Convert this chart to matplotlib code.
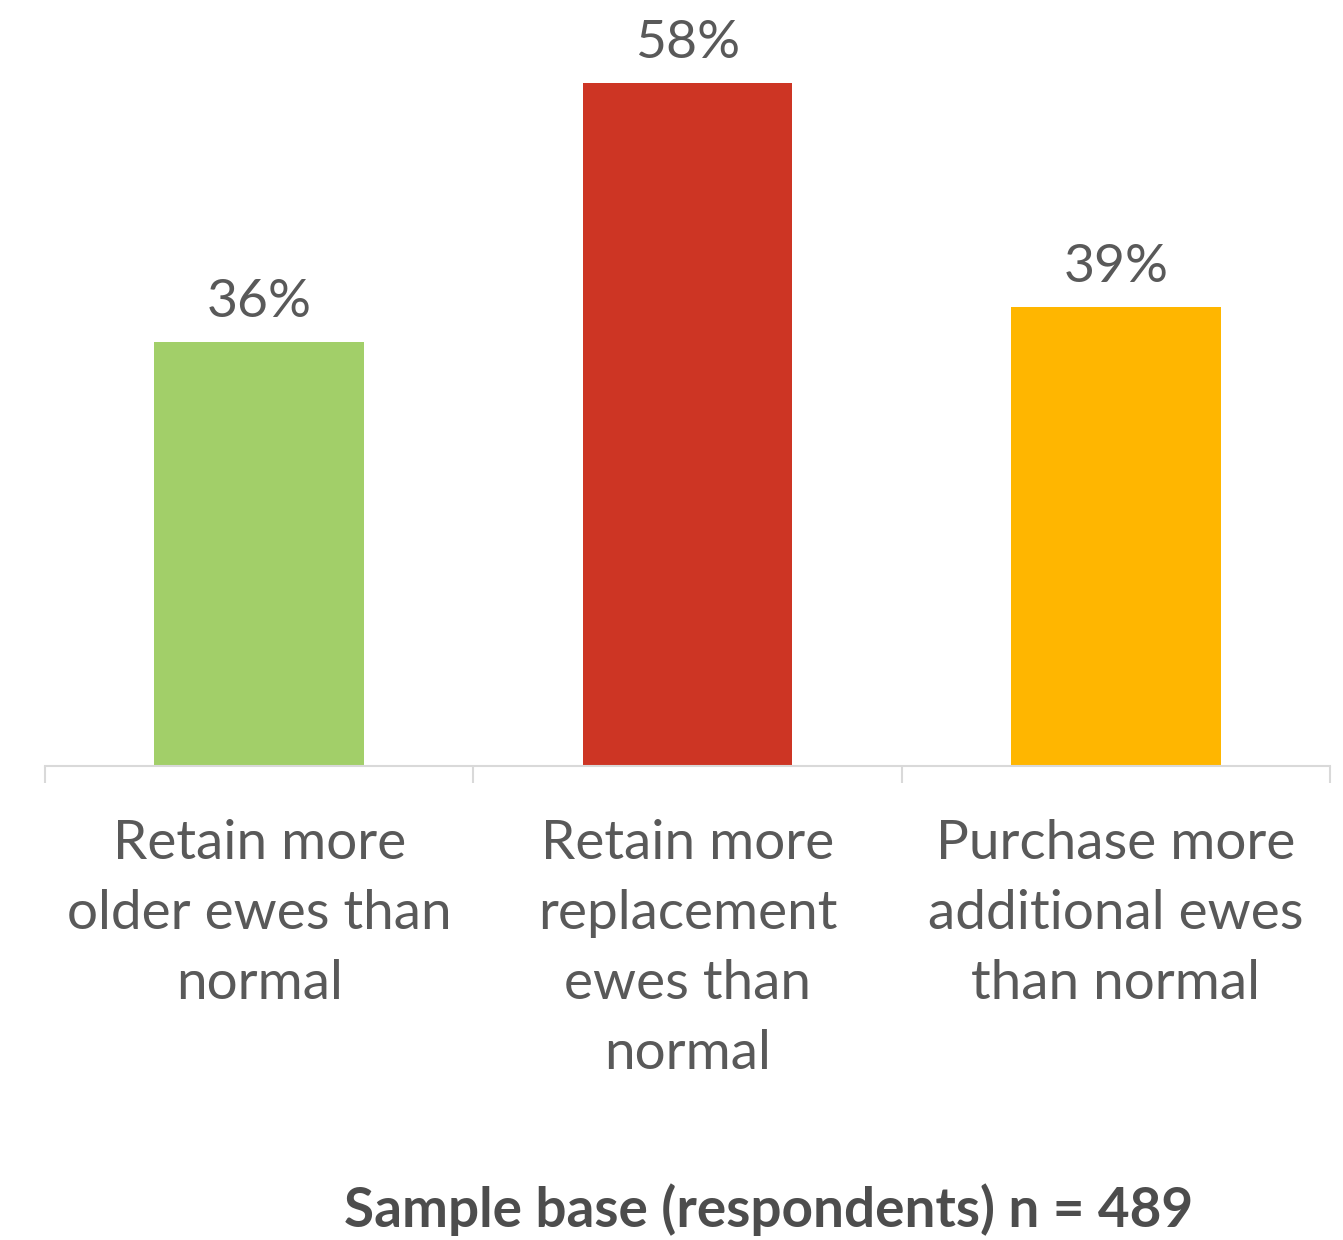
import numpy as np
from matplotlib import pyplot as plt

categories = ['Retain more\nolder ewes than\nnormal',
              'Retain more\nreplacement\newes than\nnormal',
              'Purchase more\nadditional ewes\nthan normal']
values = [0.36, 0.58, 0.39]
colors = ['#A2CF69', '#CD3524', '#FFB600']
note = 'Sample base (respondents) n = 489'

plt.rcParams['font.family'] = ['Lato', 'DejaVu Sans']
txt = '#595959'

fig = plt.figure(figsize=(13.43, 12.4), dpi=100)
ax = fig.add_axes([0.0335, 0.3823, 0.9568, 0.5694])

x = np.arange(len(values))
bars = ax.bar(x, values, width=0.49, color=colors)

for xi, v in zip(x, values):
    ax.text(xi, v + 0.014, '%d%%' % round(v * 100), ha='center', va='bottom',
            fontsize=38.5, color=txt)

ax.set_xlim(-0.5, 2.5)
ax.set_ylim(0, 0.6)
ax.set_yticks([])
for s in ['top', 'right', 'left']:
    ax.spines[s].set_visible(False)
ax.spines['bottom'].set_color('#D9D9D9')
ax.spines['bottom'].set_linewidth(1.5)

ax.set_xticks(x)
ax.set_xticklabels(categories, fontsize=39.5, color=txt, linespacing=1.53)
ax.set_xticks([-0.5, 0.5, 1.5, 2.5], minor=True)
ax.tick_params(axis='x', which='major', length=0, pad=38)
ax.tick_params(axis='x', which='minor', length=12, width=1.5, color='#D9D9D9')

fig.text(0.572, 0.003, note, ha='center', va='bottom', fontsize=39.5,
         fontweight='bold', color='#4D4D4D')

plt.savefig('out.png', dpi=100)
